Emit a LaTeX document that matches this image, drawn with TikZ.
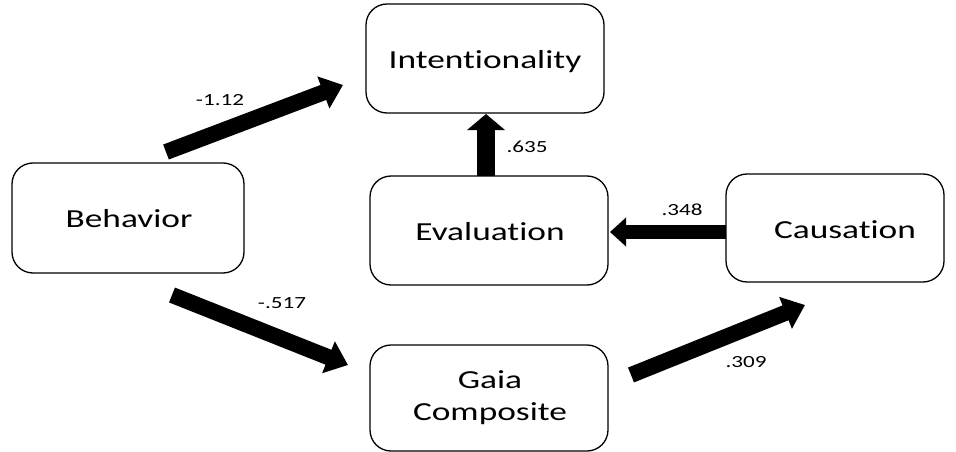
\documentclass[tikz,border=0pt]{standalone}
\usepackage{fontspec}
\setmainfont{Carlito}[FakeStretch=1.36, Ligatures={NoCommon}]
\usetikzlibrary{arrows.meta}
\begin{document}
\begin{tikzpicture}[x=1pt,y=-1pt,
  box/.style={draw, line width=1.3pt, rounded corners=21pt, fill=white},
  boxtext/.style={font=\fontsize{26}{32}\selectfont, align=center},
  fat/.style={line width=16pt, -{Triangle[length=21pt,width=33pt]}},
  lab/.style={font=\fontsize{17}{20}\selectfont}]
\useasboundingbox (0,0) rectangle (956,452);
% boxes
\draw[box] (366,4) rectangle (604,113);
\node[boxtext] (int) at (485,62) {Intentionality};
\draw[box] (12,163) rectangle (244,273);
\node[boxtext] (beh) at (129,219) {Behavior};
\draw[box] (370,176) rectangle (608,285);
\node[boxtext] (eva) at (490,232) {Evaluation};
\draw[box] (726,174) rectangle (944,282);
\node[boxtext] (cau) at (845,230) {Causation};
\draw[box] (370,345) rectangle (608,451);
\node[boxtext] (gai) at (490,398) {Gaia\\Composite};
% arrow end points
\coordinate (a1s) at (166,152); \coordinate (a1e) at (343,85);
\coordinate (a2s) at (172,295); \coordinate (a2e) at (348,365);
\coordinate (a3s) at (486,176); \coordinate (a3e) at (486,114);
\coordinate (a4s) at (726,232); \coordinate (a4e) at (610,232);
\coordinate (a5s) at (631,375); \coordinate (a5e) at (805,305);
\draw[fat] (a1s) -- (a1e);
\draw[fat] (a2s) -- (a2e);
\draw[line width=18pt, -{Triangle[length=16pt,width=37pt]}] (a3s) -- (a3e);
\draw[line width=14pt, -{Triangle[length=16pt,width=28pt]}] (a4s) -- (a4e);
\draw[fat] (a5s) -- (a5e);
% labels
\node[lab] (l1) at (220,100) {-1.12};
\node[lab] (l2) at (282,303) {-.517};
\node[lab] (l3) at (527,147) {.635};
\node[lab] (l4) at (682,210) {.348};
\node[lab] (l5) at (746,362) {.309};
\end{tikzpicture}
\end{document}
